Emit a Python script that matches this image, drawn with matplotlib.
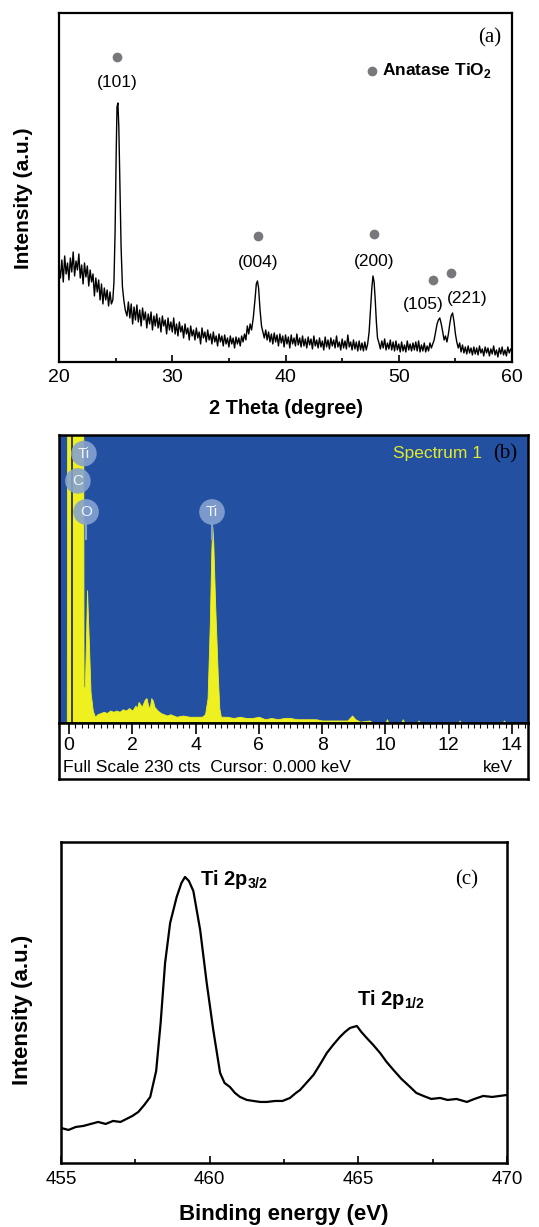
import numpy as np
import matplotlib as mpl
import matplotlib.pyplot as plt

mpl.rcParams['font.family'] = ['Liberation Sans', 'DejaVu Sans']
mpl.rcParams['mathtext.fontset'] = 'custom'
mpl.rcParams['mathtext.rm'] = 'Liberation Sans'
mpl.rcParams['mathtext.bf'] = 'Liberation Sans:bold'

# ---- (a) XRD pattern ----
xrd_theta = [
    20.0, 20.125, 20.25, 20.375, 20.5, 20.625, 20.75, 20.875, 21.0, 21.125, 21.25, 21.375,
    21.5, 21.625, 21.75, 21.875, 22.0, 22.125, 22.25, 22.375, 22.5, 22.625, 22.75, 22.875,
    23.0, 23.125, 23.25, 23.375, 23.5, 23.625, 23.75, 23.875, 24.0, 24.125, 24.25, 24.375,
    24.5, 24.625, 24.75,
    24.85, 24.95, 25.05, 25.12, 25.2, 25.28, 25.38, 25.48, 25.6, 25.72, 25.85,
    26.0, 26.125, 26.25, 26.375, 26.5, 26.625, 26.75, 26.875, 27.0, 27.125, 27.25, 27.375,
    27.5, 27.625, 27.75, 27.875, 28.0, 28.125, 28.25, 28.375, 28.5, 28.625, 28.75, 28.875,
    29.0, 29.125, 29.25, 29.375, 29.5, 29.625, 29.75, 29.875, 30.0, 30.125, 30.25, 30.375,
    30.5, 30.625, 30.75, 30.875, 31.0, 31.125, 31.25, 31.375, 31.5, 31.625, 31.75, 31.875,
    32.0, 32.125, 32.25, 32.375, 32.5, 32.625, 32.75, 32.875, 33.0, 33.125, 33.25, 33.375,
    33.5, 33.625, 33.75, 33.875, 34.0, 34.125, 34.25, 34.375, 34.5, 34.625, 34.75, 34.875,
    35.0, 35.125, 35.25, 35.375, 35.5, 35.625, 35.75, 35.875, 36.0, 36.125, 36.25, 36.375,
    36.5, 36.625, 36.75, 36.875,
    37.0, 37.15, 37.3, 37.42, 37.52, 37.62, 37.75, 37.88,
    38.0, 38.125, 38.25, 38.375, 38.5, 38.625, 38.75, 38.875, 39.0, 39.125, 39.25, 39.375,
    39.5, 39.625, 39.75, 39.875, 40.0, 40.125, 40.25, 40.375, 40.5, 40.625, 40.75, 40.875,
    41.0, 41.125, 41.25, 41.375, 41.5, 41.625, 41.75, 41.875, 42.0, 42.125, 42.25, 42.375,
    42.5, 42.625, 42.75, 42.875, 43.0, 43.125, 43.25, 43.375, 43.5, 43.625, 43.75, 43.875,
    44.0, 44.125, 44.25, 44.375, 44.5, 44.625, 44.75, 44.875, 45.0, 45.125, 45.25, 45.375,
    45.5, 45.625, 45.75, 45.875, 46.0, 46.125, 46.25, 46.375, 46.5, 46.625, 46.75, 46.875,
    47.0, 47.125, 47.25,
    47.38, 47.5, 47.62, 47.72, 47.82, 47.92, 48.02, 48.12,
    48.25, 48.375, 48.5, 48.625, 48.75, 48.875, 49.0, 49.125, 49.25, 49.375, 49.5, 49.625,
    49.75, 49.875, 50.0, 50.125, 50.25, 50.375, 50.5, 50.625, 50.75, 50.875, 51.0, 51.125,
    51.25, 51.375, 51.5, 51.625, 51.75, 51.875, 52.0, 52.125, 52.25, 52.375, 52.5, 52.625,
    52.75, 52.875, 53.0,
    53.12, 53.25, 53.38, 53.5, 53.62, 53.75, 53.88, 54.0, 54.12, 54.25, 54.38, 54.5,
    54.62, 54.75, 54.88, 55.0, 55.12,
    55.25, 55.375, 55.5, 55.625, 55.75, 55.875, 56.0, 56.125, 56.25, 56.375, 56.5, 56.625,
    56.75, 56.875, 57.0, 57.125, 57.25, 57.375, 57.5, 57.625, 57.75, 57.875, 58.0, 58.125,
    58.25, 58.375, 58.5, 58.625, 58.75, 58.875, 59.0, 59.125, 59.25, 59.375, 59.5, 59.625,
    59.75, 59.875, 60.0]
xrd_counts = [
    95, 84, 102, 80, 106, 88, 99, 82, 104, 90, 110, 86,
    101, 92, 108, 84, 97, 78, 99, 85, 96, 76, 92, 80,
    88, 66, 84, 70, 82, 62, 78, 58, 74, 62, 72, 56,
    70, 58, 62,
    80, 130, 210, 255, 259, 235, 175, 115, 75, 62, 52,
    46, 60, 44, 58, 38, 55, 42, 57, 40, 52, 36, 54,
    42, 50, 34, 48, 38, 50, 32, 46, 36, 48, 34, 44,
    30, 46, 36, 42, 28, 44, 32, 40, 30, 44, 28, 38,
    26, 40, 30, 36, 24, 38, 28, 34, 22, 36, 26, 32,
    22, 34, 24, 30, 18, 34, 24, 30, 20, 32, 22, 28,
    18, 30, 20, 26, 16, 28, 20, 26, 16, 27, 18, 24,
    15, 26, 18, 24, 14, 25, 18, 24, 16, 26, 20, 28,
    22, 36, 28, 38,
    32, 44, 62, 78, 81, 74, 52, 36,
    30, 24, 32, 22, 30, 20, 28, 18, 29, 20, 27, 16,
    28, 19, 26, 15, 27, 18, 25, 14, 27, 18, 24, 16,
    28, 17, 24, 15, 26, 16, 23, 14, 25, 17, 23, 13,
    26, 16, 22, 14, 24, 15, 21, 12, 25, 15, 22, 13,
    24, 16, 22, 14, 26, 15, 20, 12, 23, 14, 21, 13,
    27, 15, 20, 12, 22, 13, 20, 11, 21, 12, 19, 11,
    20, 12, 18,
    30, 52, 74, 86, 80, 62, 40, 24,
    19, 13, 21, 14, 23, 12, 19, 13, 22, 12, 20, 11,
    21, 12, 18, 10, 20, 11, 17, 10, 21, 12, 18, 11,
    19, 12, 20, 11, 21, 10, 17, 11, 19, 10, 16, 11,
    19, 14, 18,
    22, 30, 38, 42, 44, 38, 30, 22, 26, 20, 28, 38,
    46, 49, 40, 28, 20,
    14, 19, 10, 17, 9, 15, 8, 16, 9, 14, 7, 15,
    8, 14, 7, 16, 9, 13, 6, 15, 9, 14, 6, 13,
    8, 16, 7, 12, 5, 14, 8, 15, 7, 12, 6, 15,
    9, 13, 10]

hkl_labels = ['(101)', '(004)', '(200)', '(105)', '(221)']
hkl_marker_x = [25.1, 37.55, 47.8, 53.0, 54.6]
hkl_marker_y = [305, 126, 128, 82, 89]
hkl_label_x = [25.1, 37.55, 47.8, 52.2, 56.0]
hkl_label_y = [279, 99, 100, 57, 63]

# ---- (b) EDS spectrum ----
eds_kev = [-0.32, -0.07, -0.06, 0.45, 0.46, 0.5, 0.53, 0.57, 0.62, 0.68, 0.75, 0.82,
           0.9, 1.0, 1.1, 1.2, 1.3, 1.4, 1.5, 1.6, 1.7, 1.8, 1.9, 2.0, 2.1, 2.15,
           2.2, 2.3, 2.4, 2.45, 2.5, 2.55, 2.6, 2.65, 2.7, 2.8, 2.9, 3.0, 3.1, 3.2,
           3.4, 3.6, 3.8, 4.0, 4.2, 4.3, 4.38, 4.45, 4.5, 4.53, 4.56, 4.62, 4.7, 4.75,
           4.8, 5.0, 5.2, 5.4, 5.6, 5.8, 6.0, 6.2, 6.4, 6.6, 6.8, 7.0, 7.2, 7.4,
           7.6, 7.8, 8.0, 8.2, 8.4, 8.6, 8.8, 8.95, 9.05, 9.2, 9.5, 9.6, 10.0, 10.05,
           10.1, 10.5, 10.55, 10.6, 11.0, 11.05, 11.1, 12.3, 12.35, 12.4, 13.7, 13.75,
           13.8, 14.6]
eds_cts = [0, 0, 240, 240, 29, 29, 60, 107, 70, 25, 10, 5,
           7, 8, 9, 8, 10, 9, 10, 9, 11, 10, 12, 10, 14, 12,
           17, 13, 19, 20, 14, 12, 20, 18, 13, 10, 8, 7, 6, 7,
           5, 6, 5, 5, 5, 7, 20, 80, 140, 158, 145, 95, 40, 12,
           5, 5, 4, 5, 4, 4, 5, 3, 4, 3, 4, 4, 3, 3,
           3, 3, 2, 2, 2, 2, 2, 6, 3, 1, 2, 0, 0, 3,
           0, 0, 3, 0, 0, 2, 0, 0, 2, 0, 0, 2,
           0, 0]
eds_elements = ['Ti', 'C', 'O', 'Ti']
eds_elem_x = [0.47, 0.28, 0.54, 4.52]
eds_elem_y = [217, 195, 170, 170]

# ---- (c) XPS Ti 2p ----
xps_be = [455.0, 455.25, 455.5, 455.75, 456.0, 456.25, 456.5, 456.75, 457.0, 457.2, 457.4,
          457.6, 457.8, 458.0, 458.2, 458.35, 458.5, 458.67, 458.89, 459.05, 459.17, 459.3,
          459.45, 459.68, 459.9, 460.12, 460.35, 460.5, 460.68, 460.85, 461.02, 461.25,
          461.47, 461.7, 461.92, 462.2, 462.45, 462.7, 462.9, 463.04, 463.25, 463.49, 463.7,
          463.94, 464.15, 464.38, 464.55, 464.72, 464.95, 465.1, 465.28, 465.5, 465.73,
          465.95, 466.18, 466.45, 466.74, 466.95, 467.19, 467.45, 467.75, 468.0, 468.3,
          468.65, 468.9, 469.2, 469.5, 469.75, 470.0]
xps_int = [35, 33, 36, 37, 39, 41, 39, 42, 41, 44, 47,
           51, 58, 66, 92, 140, 200, 240, 266, 280, 286, 282,
           272, 233, 180, 133, 90, 80, 76, 70, 66, 63,
           62, 61, 61, 62, 62, 65, 70, 73, 80, 88, 98,
           110, 118, 126, 131, 135, 137, 131, 125, 118, 110,
           101, 93, 84, 76, 70, 67, 64, 65, 63, 64,
           61, 64, 67, 66, 67, 68]

fig = plt.figure(figsize=(5.39, 12.27), dpi=100)

# panel (a)
ax1 = fig.add_axes([0.1095, 0.7050, 0.8405, 0.2844])
ax1.plot(xrd_theta, xrd_counts, color='black', lw=1.0)
ax1.plot(hkl_marker_x, hkl_marker_y, 'o', color='#77777c', ms=7, mec='none')
for lab, lx, ly in zip(hkl_labels, hkl_label_x, hkl_label_y):
    ax1.text(lx, ly, lab, ha='center', va='center', fontsize=12.5)
ax1.plot([47.6], [291], 'o', color='#77777c', ms=7, mec='none')
ax1.text(48.5, 291, r'Anatase TiO$_\mathbf{2}$', ha='left', va='center', fontsize=12.5, fontweight='bold')
ax1.text(0.95, 0.93, '(a)', transform=ax1.transAxes, ha='center', va='center',
         fontsize=15, family='Liberation Serif')
ax1.set_xlim(20, 60)
ax1.set_ylim(0, 349)
ax1.set_xticks([20, 30, 40, 50, 60])
ax1.set_xticks([25, 35, 45, 55], minor=True)
ax1.set_yticks([])
ax1.tick_params(axis='x', which='major', direction='in', length=5, width=1.2, labelsize=14, pad=5)
ax1.tick_params(axis='x', which='minor', direction='in', length=3, width=1.2)
for s in ax1.spines.values():
    s.set_linewidth(1.6)
ax1.set_xlabel('2 Theta (degree)', fontsize=14.3, fontweight='bold')
ax1.xaxis.set_label_coords(0.5, -0.105)
ax1.set_ylabel('Intensity (a.u.)', fontsize=15, fontweight='bold')
ax1.yaxis.set_label_coords(-0.057, 0.47)

# panel (b)
blue = '#2350a0'
yellow = '#eef020'
ax2 = fig.add_axes([0.1095, 0.4108, 0.870, 0.2347])
ax2.set_facecolor(blue)
ax2.fill_between(eds_kev, eds_cts, 0, color=yellow, lw=0.6, edgecolor=yellow)
ax2.axvline(0.08, color='#202020', lw=1.2)
ax2.set_xlim(-0.316, 14.507)
ax2.set_ylim(0, 232)
ax2.set_xticks([])
ax2.set_yticks([])
for s in ax2.spines.values():
    s.set_linewidth(1.8)
    s.set_color('black')
ax2.scatter(eds_elem_x, eds_elem_y, s=340, color='#86a2cf', alpha=0.9, edgecolors='none', zorder=4)
for el, ex, ey in zip(eds_elements, eds_elem_x, eds_elem_y):
    ax2.text(ex, ey, el, ha='center', va='center', fontsize=11, color='#f0f4fa', zorder=5)
ax2.plot([4.52, 4.52], [148, 160], color='#86a2cf', lw=1.5, zorder=3)
ax2.plot([0.54, 0.54], [148, 160], color='#86a2cf', lw=1.5, zorder=3)
ax2.text(11.66, 217, 'Spectrum 1', ha='center', va='center', fontsize=12.5, color='#e2ea30')
ax2.text(13.8, 217, '(b)', ha='center', va='center', fontsize=15, family='Liberation Serif')

ax3 = fig.add_axes([0.1095, 0.3651, 0.870, 0.0456])
ax3.set_xlim(-0.316, 14.507)
ax3.set_ylim(0, 1)
ax3.set_yticks([])
ax3.set_xticks(np.arange(0, 15, 2))
ax3.set_xticks(np.arange(0, 14.6, 0.2), minor=True)
ax3.tick_params(axis='x', which='both', top=True, bottom=False, labelbottom=False, direction='in')
ax3.tick_params(axis='x', which='major', length=8, width=1.2)
ax3.tick_params(axis='x', which='minor', length=3.5, width=0.8)
for t in [0, 2, 4, 6, 8, 10, 12, 14]:
    ax3.text(t, 0.6, str(t), ha='center', va='center', fontsize=14)
ax3.text(0.0085, 0.2, 'Full Scale 230 cts  Cursor: 0.000 keV', transform=ax3.transAxes,
         ha='left', va='center', fontsize=12.6)
ax3.text(0.968, 0.2, 'keV', transform=ax3.transAxes, ha='right', va='center', fontsize=12.6)
for s in ax3.spines.values():
    s.set_linewidth(1.8)

# panel (c)
ax4 = fig.add_axes([0.1132, 0.0522, 0.8275, 0.2616])
ax4.plot(xps_be, xps_int, color='black', lw=1.6)
ax4.set_xlim(455, 470)
ax4.set_ylim(0, 321)
ax4.set_xticks([455, 460, 465, 470])
ax4.set_xticks([457.5, 462.5, 467.5], minor=True)
ax4.set_yticks([])
ax4.tick_params(axis='x', which='major', direction='in', length=5, width=1.2, labelsize=13.5, pad=6)
ax4.tick_params(axis='x', which='minor', direction='in', length=3, width=1.2)
for s in ax4.spines.values():
    s.set_linewidth(1.8)
ax4.text(459.68, 283, r'Ti 2p$_\mathbf{3/2}$', ha='left', va='center', fontsize=14.5, fontweight='bold')
ax4.text(464.96, 163, r'Ti 2p$_\mathbf{1/2}$', ha='left', va='center', fontsize=14.5, fontweight='bold')
ax4.text(468.65, 283, '(c)', ha='center', va='center', fontsize=15, family='Liberation Serif')
ax4.set_xlabel('Binding energy (eV)', fontsize=16, fontweight='bold')
ax4.xaxis.set_label_coords(0.5, -0.128)
ax4.set_ylabel('Intensity (a.u.)', fontsize=16, fontweight='bold')
ax4.yaxis.set_label_coords(-0.063, 0.477)

plt.savefig('out.png', dpi=100)
